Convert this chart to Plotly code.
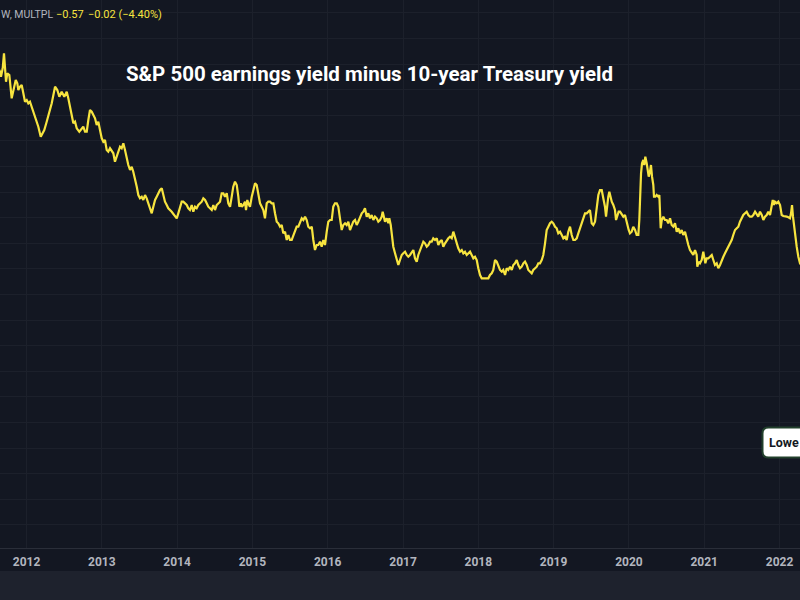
import plotly.graph_objects as go

# ---------------- data (decimal year, earnings yield minus 10y yield, %) ----------------
seg_2011_2013 = [
    (2011.608, 5.480), (2011.648, 5.350), (2011.661, 5.252), (2011.684, 5.416), (2011.701, 5.709),
    (2011.714, 5.350), (2011.728, 5.154), (2011.745, 5.318), (2011.772, 5.285), (2011.803, 4.830),
    (2011.825, 4.992), (2011.857, 5.188), (2011.878, 5.123), (2011.891, 4.992), (2011.914, 5.057),
    (2011.936, 5.090), (2011.958, 4.928), (2011.980, 4.764), (2012.003, 4.797), (2012.024, 4.732),
    (2012.046, 4.764), (2012.069, 4.666), (2012.090, 4.568), (2012.113, 4.471), (2012.135, 4.406),
    (2012.157, 4.275), (2012.189, 4.080), (2012.215, 4.146), (2012.236, 4.211), (2012.268, 4.373),
    (2012.303, 4.537), (2012.335, 4.732), (2012.379, 5.057), (2012.409, 4.992), (2012.436, 4.861),
    (2012.467, 4.959), (2012.502, 4.861), (2012.534, 4.959), (2012.555, 4.830), (2012.578, 4.666),
    (2012.600, 4.439), (2012.622, 4.342), (2012.644, 4.373), (2012.667, 4.244), (2012.701, 4.178),
    (2012.733, 4.244), (2012.754, 4.275), (2012.777, 4.178), (2012.800, 4.178), (2012.821, 4.406),
    (2012.843, 4.602), (2012.866, 4.568), (2012.887, 4.504), (2012.910, 4.439), (2012.932, 4.309),
    (2012.954, 4.373), (2012.976, 4.211), (2012.999, 4.049), (2013.020, 3.982), (2013.042, 4.016),
    (2013.065, 3.820), (2013.086, 3.787), (2013.109, 3.854), (2013.153, 3.756), (2013.175, 3.592),
    (2013.198, 3.689), (2013.219, 3.820), (2013.242, 3.885), (2013.264, 3.854), (2013.286, 3.951),
    (2013.308, 3.820), (2013.331, 3.658), (2013.352, 3.527), (2013.375, 3.430), (2013.397, 3.494),
    (2013.418, 3.396), (2013.441, 3.268), (2013.464, 3.104), (2013.485, 2.941), (2013.507, 2.877),
    (2013.530, 2.908), (2013.551, 2.844), (2013.574, 2.941), (2013.596, 2.877), (2013.618, 2.779),
    (2013.640, 2.682), (2013.663, 2.584), (2013.684, 2.713), (2013.707, 2.844), (2013.729, 2.908),
    (2013.750, 2.975), (2013.773, 3.039),
]

seg_2013_2016 = [
    (2013.796, 3.072), (2013.817, 2.941), (2013.839, 2.811), (2013.862, 2.746), (2013.883, 2.682),
    (2013.928, 2.615), (2013.972, 2.518), (2013.995, 2.486), (2014.016, 2.584), (2014.039, 2.713),
    (2014.061, 2.811), (2014.082, 2.811), (2014.105, 2.779), (2014.128, 2.746), (2014.149, 2.682),
    (2014.171, 2.648), (2014.194, 2.746), (2014.215, 2.615), (2014.238, 2.713), (2014.260, 2.682),
    (2014.282, 2.746), (2014.304, 2.779), (2014.327, 2.811), (2014.348, 2.877), (2014.371, 2.844),
    (2014.393, 2.779), (2014.414, 2.713), (2014.437, 2.682), (2014.460, 2.648), (2014.481, 2.746),
    (2014.503, 2.648), (2014.526, 2.746), (2014.547, 2.779), (2014.570, 2.811), (2014.592, 2.975),
    (2014.614, 2.975), (2014.636, 2.908), (2014.659, 2.975), (2014.680, 2.779), (2014.703, 2.713),
    (2014.725, 2.908), (2014.746, 3.104), (2014.769, 3.201), (2014.792, 3.137), (2014.813, 2.908),
    (2014.826, 2.713), (2014.845, 2.779), (2014.858, 2.713), (2014.879, 2.746), (2014.902, 2.811),
    (2014.915, 2.648), (2014.932, 2.844), (2014.946, 2.779), (2014.968, 2.713), (2014.991, 2.908),
    (2015.012, 3.039), (2015.035, 3.170), (2015.057, 3.137), (2015.078, 2.975), (2015.101, 2.779),
    (2015.124, 2.713), (2015.145, 2.648), (2015.167, 2.486), (2015.190, 2.779), (2015.211, 2.811),
    (2015.234, 2.811), (2015.256, 2.779), (2015.278, 2.779), (2015.300, 2.584), (2015.323, 2.420),
    (2015.344, 2.389), (2015.367, 2.322), (2015.389, 2.355), (2015.410, 2.193), (2015.433, 2.225),
    (2015.456, 2.063), (2015.477, 2.160), (2015.499, 2.063), (2015.522, 2.063), (2015.543, 2.160),
    (2015.566, 2.258), (2015.588, 2.322), (2015.610, 2.322), (2015.632, 2.389), (2015.655, 2.486),
    (2015.676, 2.453), (2015.699, 2.518), (2015.721, 2.453), (2015.742, 2.322), (2015.765, 2.291),
    (2015.788, 2.322), (2015.809, 2.063), (2015.831, 1.867), (2015.854, 1.965), (2015.875, 1.965),
    (2015.898, 2.029), (2015.920, 1.932), (2015.942, 2.063), (2015.964, 1.965), (2015.987, 2.225),
    (2016.008, 2.420), (2016.031, 2.453), (2016.053, 2.453), (2016.074, 2.713), (2016.097, 2.779),
    (2016.120, 2.779), (2016.141, 2.713), (2016.163, 2.486), (2016.186, 2.258), (2016.207, 2.355),
    (2016.230, 2.389), (2016.252, 2.355), (2016.274, 2.420), (2016.296, 2.258), (2016.319, 2.355),
    (2016.340, 2.420), (2016.363, 2.453), (2016.385, 2.355), (2016.406, 2.420), (2016.429, 2.518),
    (2016.452, 2.584), (2016.473, 2.615), (2016.495, 2.682), (2016.518, 2.518), (2016.539, 2.584),
    (2016.562, 2.486), (2016.584, 2.551), (2016.606, 2.453), (2016.628, 2.518), (2016.651, 2.486),
    (2016.672, 2.420),
]

seg_2016_2019 = [
    (2016.695, 2.453), (2016.717, 2.518), (2016.730, 2.615), (2016.748, 2.518), (2016.761, 2.420),
    (2016.784, 2.486), (2016.805, 2.389), (2016.818, 2.486), (2016.837, 2.355), (2016.850, 2.193),
    (2016.871, 1.932), (2016.894, 1.803), (2016.916, 1.705), (2016.938, 1.574), (2016.960, 1.672),
    (2016.983, 1.770), (2017.004, 1.803), (2017.027, 1.834), (2017.049, 1.770), (2017.070, 1.736),
    (2017.093, 1.770), (2017.116, 1.834), (2017.137, 1.867), (2017.159, 1.705), (2017.182, 1.639),
    (2017.203, 1.770), (2017.226, 1.867), (2017.248, 1.932), (2017.270, 2.029), (2017.292, 1.998),
    (2017.315, 1.932), (2017.336, 1.965), (2017.359, 2.029), (2017.381, 2.029), (2017.402, 2.096),
    (2017.425, 2.063), (2017.448, 2.096), (2017.469, 1.965), (2017.491, 2.029), (2017.514, 2.063),
    (2017.535, 1.932), (2017.558, 1.998), (2017.580, 2.063), (2017.602, 2.096), (2017.624, 2.127),
    (2017.647, 2.096), (2017.668, 2.225), (2017.691, 2.096), (2017.713, 1.998), (2017.734, 1.900),
    (2017.757, 1.834), (2017.780, 1.867), (2017.801, 1.803), (2017.823, 1.834), (2017.846, 1.770),
    (2017.867, 1.803), (2017.890, 1.834), (2017.912, 1.770), (2017.934, 1.705), (2017.956, 1.736),
    (2017.979, 1.672), (2018.000, 1.510), (2018.023, 1.379), (2018.045, 1.314), (2018.066, 1.314),
    (2018.089, 1.314), (2018.112, 1.301), (2018.133, 1.314), (2018.155, 1.379), (2018.178, 1.412),
    (2018.199, 1.477), (2018.222, 1.672), (2018.244, 1.639), (2018.266, 1.541), (2018.288, 1.477),
    (2018.311, 1.443), (2018.332, 1.477), (2018.355, 1.379), (2018.377, 1.510), (2018.398, 1.477),
    (2018.421, 1.541), (2018.444, 1.477), (2018.465, 1.574), (2018.487, 1.607), (2018.510, 1.672),
    (2018.531, 1.574), (2018.554, 1.510), (2018.576, 1.541), (2018.598, 1.607), (2018.620, 1.639),
    (2018.643, 1.574), (2018.664, 1.477), (2018.687, 1.443), (2018.709, 1.412), (2018.730, 1.477),
    (2018.753, 1.510), (2018.776, 1.541), (2018.797, 1.607), (2018.819, 1.607), (2018.842, 1.672),
    (2018.863, 1.770), (2018.886, 1.998), (2018.908, 2.258), (2018.930, 2.322), (2018.952, 2.389),
    (2018.975, 2.420), (2018.996, 2.389), (2019.019, 2.322), (2019.041, 2.291), (2019.062, 2.193),
    (2019.085, 2.225), (2019.108, 2.160), (2019.129, 2.096), (2019.151, 2.127), (2019.174, 2.063),
    (2019.195, 2.225), (2019.218, 2.322), (2019.240, 2.160), (2019.262, 2.063), (2019.284, 2.063),
    (2019.307, 2.096), (2019.328, 2.193), (2019.351, 2.291), (2019.373, 2.389), (2019.394, 2.486),
    (2019.417, 2.584), (2019.440, 2.584), (2019.461, 2.615), (2019.483, 2.648), (2019.506, 2.389),
    (2019.527, 2.355), (2019.550, 2.420), (2019.572, 2.746), (2019.594, 2.941), (2019.616, 3.039),
]

seg_2019_2022 = [
    (2019.639, 3.039), (2019.660, 2.877), (2019.682, 2.713), (2019.696, 2.518), (2019.713, 2.779),
    (2019.726, 2.908), (2019.740, 3.006), (2019.758, 2.877), (2019.772, 2.811), (2019.793, 2.746),
    (2019.815, 2.648), (2019.829, 2.453), (2019.846, 2.551), (2019.864, 2.615), (2019.882, 2.615),
    (2019.904, 2.551), (2019.926, 2.518), (2019.948, 2.551), (2019.961, 2.453), (2019.979, 2.355),
    (2019.997, 2.258), (2020.014, 2.193), (2020.037, 2.225), (2020.058, 2.322), (2020.081, 2.258),
    (2020.103, 2.160), (2020.125, 2.160), (2020.138, 2.453), (2020.147, 2.844), (2020.161, 3.365),
    (2020.174, 3.561), (2020.191, 3.625), (2020.204, 3.527), (2020.218, 3.689), (2020.236, 3.561),
    (2020.250, 3.430), (2020.263, 3.299), (2020.280, 3.396), (2020.293, 3.527), (2020.307, 3.299),
    (2020.324, 3.137), (2020.333, 2.908), (2020.351, 2.908), (2020.369, 2.941), (2020.390, 2.908),
    (2020.404, 2.941), (2020.413, 2.584), (2020.422, 2.291), (2020.436, 2.453), (2020.457, 2.518),
    (2020.479, 2.453), (2020.502, 2.453), (2020.523, 2.389), (2020.546, 2.486), (2020.568, 2.355),
    (2020.590, 2.322), (2020.612, 2.389), (2020.635, 2.225), (2020.656, 2.291), (2020.679, 2.193),
    (2020.701, 2.258), (2020.722, 2.160), (2020.745, 2.225), (2020.768, 2.063), (2020.789, 1.965),
    (2020.811, 1.867), (2020.834, 1.803), (2020.855, 1.770), (2020.878, 1.867), (2020.900, 1.770),
    (2020.908, 1.541), (2020.927, 1.639), (2020.944, 1.607), (2020.967, 1.672), (2020.988, 1.834),
    (2021.001, 1.672), (2021.015, 1.607), (2021.033, 1.705), (2021.054, 1.705), (2021.077, 1.736),
    (2021.100, 1.770), (2021.121, 1.672), (2021.143, 1.574), (2021.166, 1.607), (2021.187, 1.510),
    (2021.210, 1.574), (2021.232, 1.639), (2021.254, 1.736), (2021.276, 1.803), (2021.299, 1.867),
    (2021.320, 1.932), (2021.343, 1.998), (2021.365, 2.063), (2021.386, 2.160), (2021.409, 2.258),
    (2021.432, 2.291), (2021.453, 2.322), (2021.475, 2.420), (2021.498, 2.486), (2021.519, 2.551),
    (2021.542, 2.584), (2021.564, 2.615), (2021.586, 2.551), (2021.608, 2.518), (2021.631, 2.518),
    (2021.652, 2.551), (2021.675, 2.615), (2021.697, 2.551), (2021.718, 2.518), (2021.741, 2.615),
    (2021.764, 2.551), (2021.785, 2.453), (2021.807, 2.518), (2021.830, 2.551), (2021.851, 2.615),
    (2021.874, 2.551), (2021.896, 2.713), (2021.910, 2.844), (2021.927, 2.746), (2021.940, 2.811),
    (2021.963, 2.779), (2021.984, 2.811), (2022.007, 2.746), (2022.029, 2.551), (2022.050, 2.531),
    (2022.073, 2.531), (2022.096, 2.518), (2022.117, 2.506), (2022.139, 2.486), (2022.153, 2.584),
    (2022.166, 2.746), (2022.179, 2.518), (2022.193, 2.322), (2022.206, 2.127), (2022.228, 1.932),
    (2022.250, 1.736), (2022.272, 1.607), (2022.312, 1.516),
]

tick_years = [2012, 2013, 2014, 2015, 2016, 2017, 2018, 2019, 2020, 2021, 2022]
tick_labels = [str(y) for y in tick_years]

title_text = "S&amp;P 500 earnings yield minus 10-year Treasury yield"
symbol_text = "W, MULTPL"
last_value_text = "\u22120.57"
change_text = "\u22120.02 (\u22124.40%)"
callout_text = "Lowe"

# ---------------- figure ----------------
points = seg_2011_2013 + seg_2013_2016 + seg_2016_2019 + seg_2019_2022
years = [p[0] for p in points]
values = [p[1] for p in points]

W, H = 800, 600
PLOT_H = 548  # pixel height of plotting area


def fx(px):
    return px / W


def fy(py):
    return (PLOT_H - py) / PLOT_H


BG = "#131722"
GRID = "#1c202b"
YELLOW = "#f7e43f"

fig = go.Figure()
fig.add_trace(go.Scatter(
    x=years, y=values, mode="lines",
    line=dict(color=YELLOW, width=2.2),
    hoverinfo="skip",
))

# rounded callout box
bx0, bx1, by0, by1, r = 762.5, 860, 427.5, 457.5, 6
path = (
    f"M {fx(bx0 + r)} {fy(by0)} L {fx(bx1 - r)} {fy(by0)} Q {fx(bx1)} {fy(by0)} {fx(bx1)} {fy(by0 + r)} "
    f"L {fx(bx1)} {fy(by1 - r)} Q {fx(bx1)} {fy(by1)} {fx(bx1 - r)} {fy(by1)} "
    f"L {fx(bx0 + r)} {fy(by1)} Q {fx(bx0)} {fy(by1)} {fx(bx0)} {fy(by1 - r)} "
    f"L {fx(bx0)} {fy(by0 + r)} Q {fx(bx0)} {fy(by0)} {fx(bx0 + r)} {fy(by0)} Z"
)

shapes = [
    dict(type="rect", xref="paper", yref="paper", x0=0, x1=1, y0=fy(600), y1=fy(571),
         fillcolor="#1e222d", line=dict(width=0), layer="below"),
    dict(type="path", xref="paper", yref="paper", path=path,
         fillcolor="#ffffff", line=dict(color="#22402c", width=2), layer="above"),
]

annotations = [
    dict(text=f"<b>{title_text}</b>", xref="paper", yref="paper", x=fx(369), y=fy(74),
         xanchor="center", yanchor="middle", showarrow=False,
         font=dict(family="Roboto", size=20.5, color="#ffffff")),
    dict(text=symbol_text, xref="paper", yref="paper", x=fx(0), y=fy(15),
         xanchor="left", yanchor="middle", showarrow=False, borderpad=0,
         font=dict(family="Roboto", size=10.5, color="#b2b5be")),
    dict(text=last_value_text, xref="paper", yref="paper", x=fx(55), y=fy(15),
         xanchor="left", yanchor="middle", showarrow=False, borderpad=0,
         font=dict(family="Roboto", size=11, color=YELLOW)),
    dict(text=change_text, xref="paper", yref="paper", x=fx(87), y=fy(15),
         xanchor="left", yanchor="middle", showarrow=False, borderpad=0,
         font=dict(family="Roboto", size=11, color=YELLOW)),
    dict(text=f"<b>{callout_text}</b>", xref="paper", yref="paper", x=fx(768), y=fy(442),
         xanchor="left", yanchor="middle", showarrow=False, borderpad=0,
         font=dict(family="Roboto", size=12.5, color="#131722")),
]

fig.update_layout(
    width=W, height=H,
    margin=dict(l=0, r=0, t=0, b=H - PLOT_H),
    paper_bgcolor=BG, plot_bgcolor=BG,
    showlegend=False,
    xaxis=dict(
        range=[2011.648, 2022.272],
        tickvals=tick_years, ticktext=tick_labels,
        showgrid=True, gridcolor=GRID, gridwidth=1,
        zeroline=False, showline=True, linecolor="#2a2e39", linewidth=1,
        ticks="", fixedrange=True, ticklabelstandoff=3,
        tickfont=dict(family="Roboto", size=12, color="#b2b5be", weight="bold"),
    ),
    yaxis=dict(
        range=[-3.953, 6.75], tick0=0, dtick=0.5,
        showgrid=True, gridcolor=GRID, gridwidth=1,
        zeroline=False, showticklabels=False, fixedrange=True,
    ),
    shapes=shapes,
    annotations=annotations,
)

fig.write_html(
    "out.html",
    config={"displayModeBar": False},
    post_script="document.body.style.margin='0';document.body.style.overflow='hidden';",
)
